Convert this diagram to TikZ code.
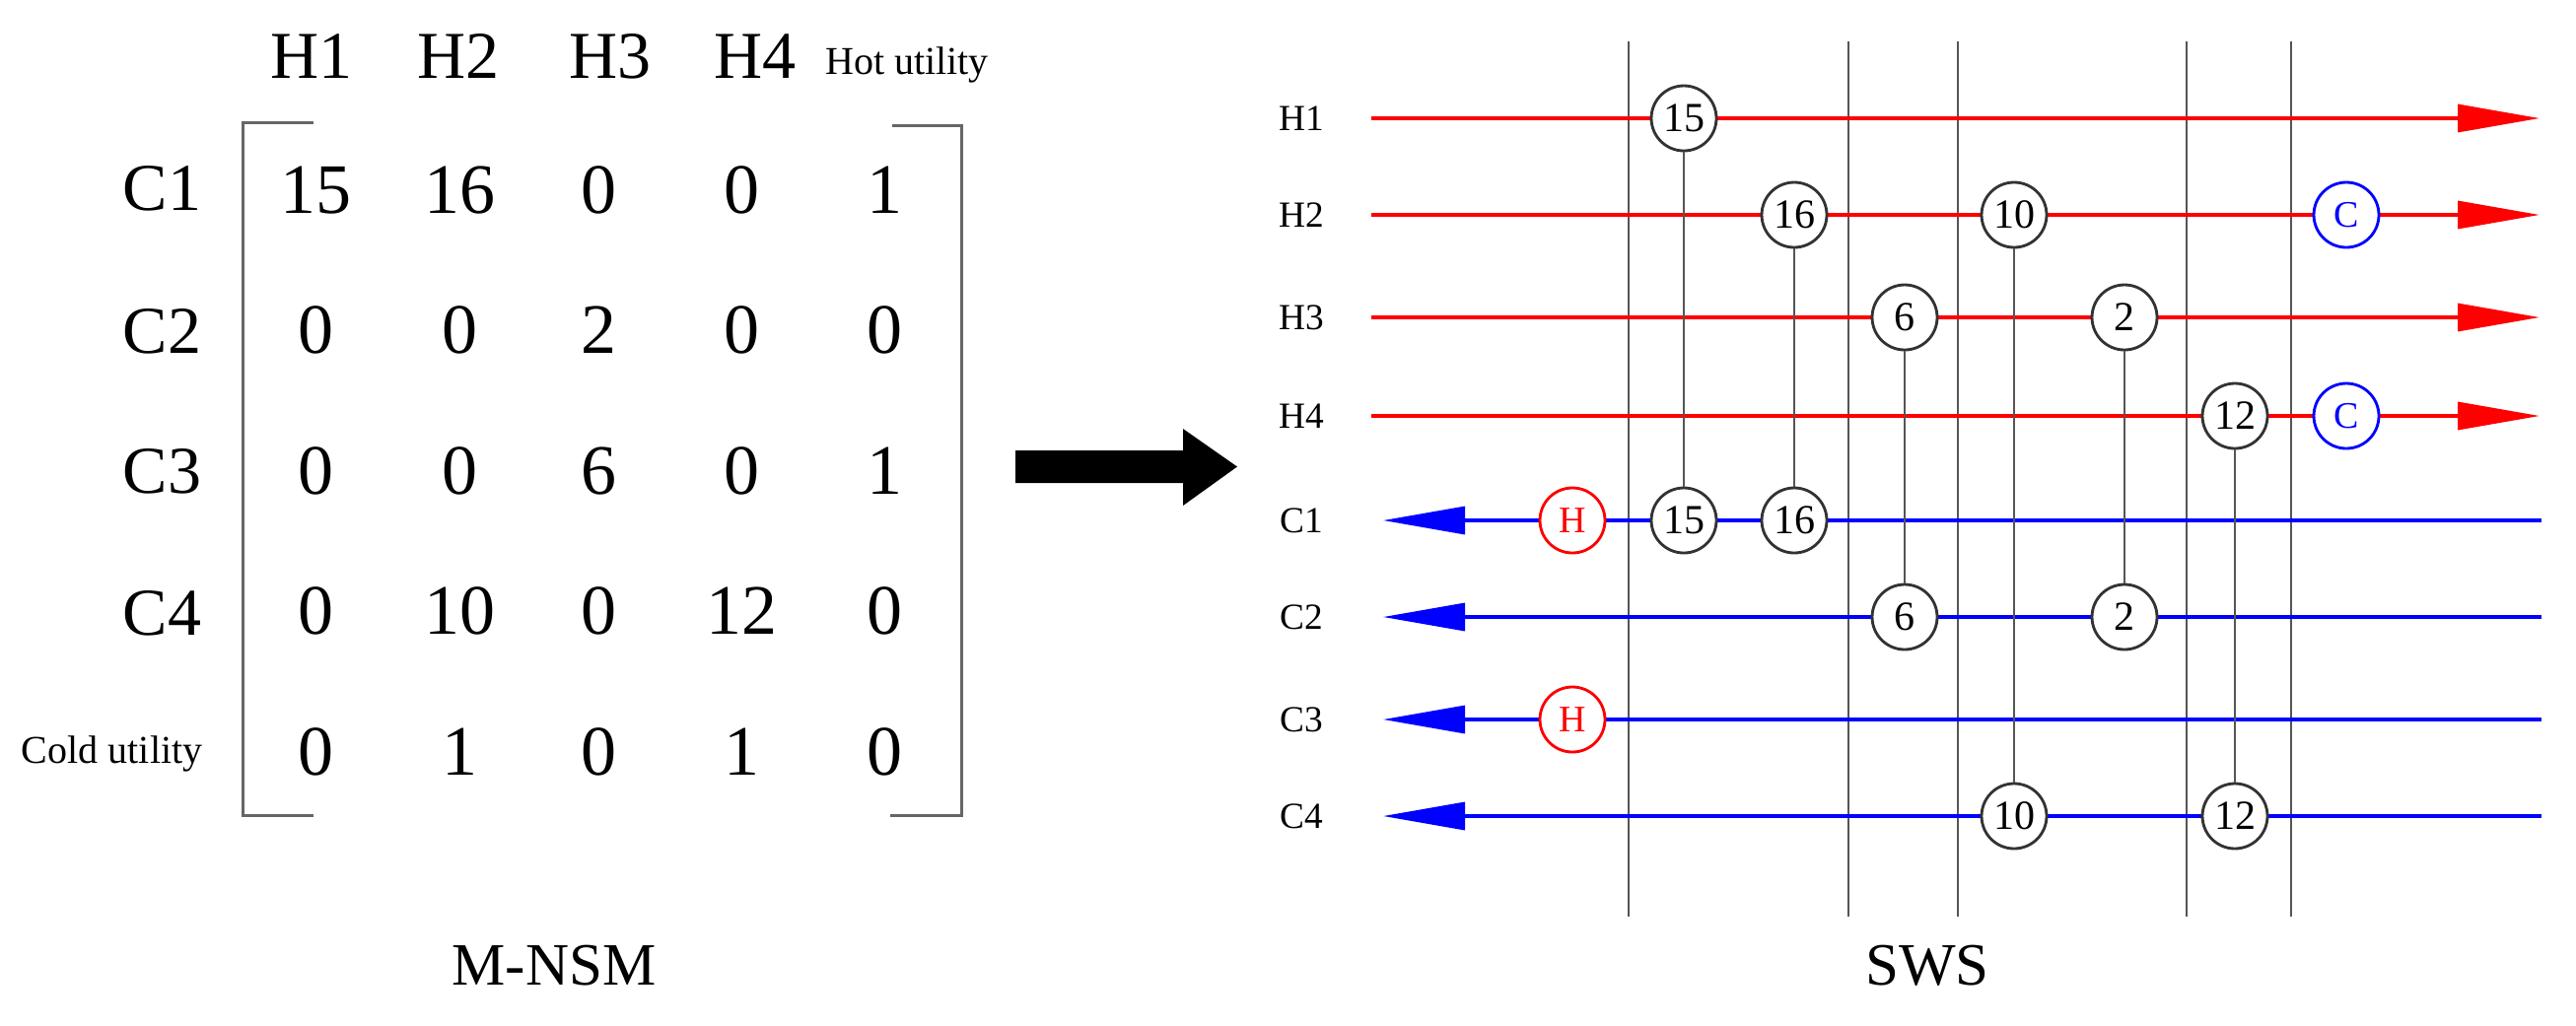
\documentclass[tikz,border=0pt]{standalone}
\usepackage{fontspec}
\setmainfont{Liberation Serif}
\usetikzlibrary{arrows.meta}
\definecolor{divgray}{HTML}{555555}
\definecolor{brgray}{HTML}{666666}
\definecolor{ringgray}{HTML}{333333}
\begin{document}
\begin{tikzpicture}[x=0.3pt,y=-0.3pt,
  num/.style={anchor=base,inner sep=0pt,font=\fontsize{21.6}{22}\selectfont},
  hdr/.style={anchor=base,inner sep=0pt,font=\fontsize{20.4}{21}\selectfont},
  rowlab/.style={anchor=base east,inner sep=0pt,font=\fontsize{20.4}{21}\selectfont},
  util/.style={inner sep=0pt,font=\fontsize{12}{13}\selectfont},
  slab/.style={anchor=base,inner sep=0pt,font=\fontsize{11.2}{12}\selectfont},
  ttl/.style={anchor=base,inner sep=0pt,font=\fontsize{18.3}{19}\selectfont},
  hot/.style={draw=red,line width=1pt,-{Triangle[length=24.9pt,width=8.4pt]}},
  cold/.style={draw=blue,line width=1pt,-{Triangle[length=24.9pt,width=8.4pt]}},
  div/.style={draw=divgray,line width=0.75pt},
  link/.style={draw=divgray,line width=0.7pt},
  bracket/.style={draw=brgray,line width=0.9pt},
  hx/.style={circle,draw=ringgray,line width=0.85pt,fill=white,minimum size=19.8pt,inner sep=0pt,font=\fontsize{12.6}{13}\selectfont},
  heater/.style={hx,draw=red,text=red,font=\fontsize{11.4}{12}\selectfont},
  cooler/.style={hx,draw=blue,text=blue,font=\fontsize{11.4}{12}\selectfont}]
\useasboundingbox (0,0) rectangle (2613,1040);
\fill[white] (0,0) rectangle (2613,1040);

% ---------- M-NSM matrix ----------
\node[hdr] (hH1) at (316,79) {H1};
\node[hdr] (hH2) at (465,79) {H2};
\node[hdr] (hH3) at (619,79) {H3};
\node[hdr] (hH4) at (766,79) {H4};
\node[util,anchor=base] (hHU) at (920,75) {Hot utility};

\node[rowlab] (rC1) at (205,213) {C1};
\node[rowlab] (rC2) at (205,358) {C2};
\node[rowlab] (rC3) at (205,500) {C3};
\node[rowlab] (rC4) at (205,644) {C4};
\node[util,anchor=base east] (rCU) at (206,774) {Cold utility};

\foreach \x/\v [count=\c] in {320/15,466/16,607/0,752/0,897/1}
  \node[num] (m1-\c) at (\x,216) {\v};
\foreach \x/\v [count=\c] in {320/0,466/0,607/2,752/0,897/0}
  \node[num] (m2-\c) at (\x,358.5) {\v};
\foreach \x/\v [count=\c] in {320/0,466/0,607/6,752/0,897/1}
  \node[num] (m3-\c) at (\x,501) {\v};
\foreach \x/\v [count=\c] in {320/0,466/10,607/0,752/12,897/0}
  \node[num] (m4-\c) at (\x,643.5) {\v};
\foreach \x/\v [count=\c] in {320/0,466/1,607/0,752/1,897/0}
  \node[num] (m5-\c) at (\x,786) {\v};

\draw[bracket] (318,124) -- (246,124) -- (246,827) -- (318,827);
\draw[bracket] (905,127) -- (975,127) -- (975,827) -- (903,827);

\node[ttl] (tM) at (562,999) {M-NSM};

% ---------- big arrow ----------
\fill[black] (1030,457) -- (1200,457) -- (1200,435) -- (1255,473.5) -- (1200,513) -- (1200,490) -- (1030,490) -- cycle;

% ---------- SWS ----------
\foreach \x [count=\i] in {1652,1875,1986,2218,2324} {
  \coordinate (vt\i) at (\x,42);
  \coordinate (vb\i) at (\x,930);
  \draw[div] (vt\i) -- (vb\i);
}

\foreach \n/\y in {H1/120,H2/218,H3/322,H4/422} {
  \node[slab] (l\n) at (1320,{\y+12}) {\n};
  \coordinate (s\n) at (1391,\y);
  \coordinate (t\n) at (2576,\y);
  \draw[hot] (s\n) -- (t\n);
}
\foreach \n/\y in {C1/528,C2/626,C3/730,C4/828} {
  \node[slab] (l\n) at (1320,{\y+12}) {\n};
  \coordinate (s\n) at (2578,\y);
  \coordinate (t\n) at (1403,\y);
  \draw[cold] (s\n) -- (t\n);
}

\foreach \nm/\x/\ya/\yb/\v in {a/1708/120/528/15,b/1820/218/528/16,c/1932/322/626/6,d/2043/218/828/10,e/2155/322/626/2,f/2267/422/828/12} {
  \node[hx] (\nm1) at (\x,\ya) {\v};
  \node[hx] (\nm2) at (\x,\yb) {\v};
  \draw[link] (\nm1) -- (\nm2);
}

\node[heater] (ht1) at (1595,528) {H};
\node[heater] (ht2) at (1595,730) {H};
\node[cooler] (cl1) at (2380,218) {C};
\node[cooler] (cl2) at (2380,422) {C};

\node[ttl] (tS) at (1955,999) {SWS};
\end{tikzpicture}
\end{document}
